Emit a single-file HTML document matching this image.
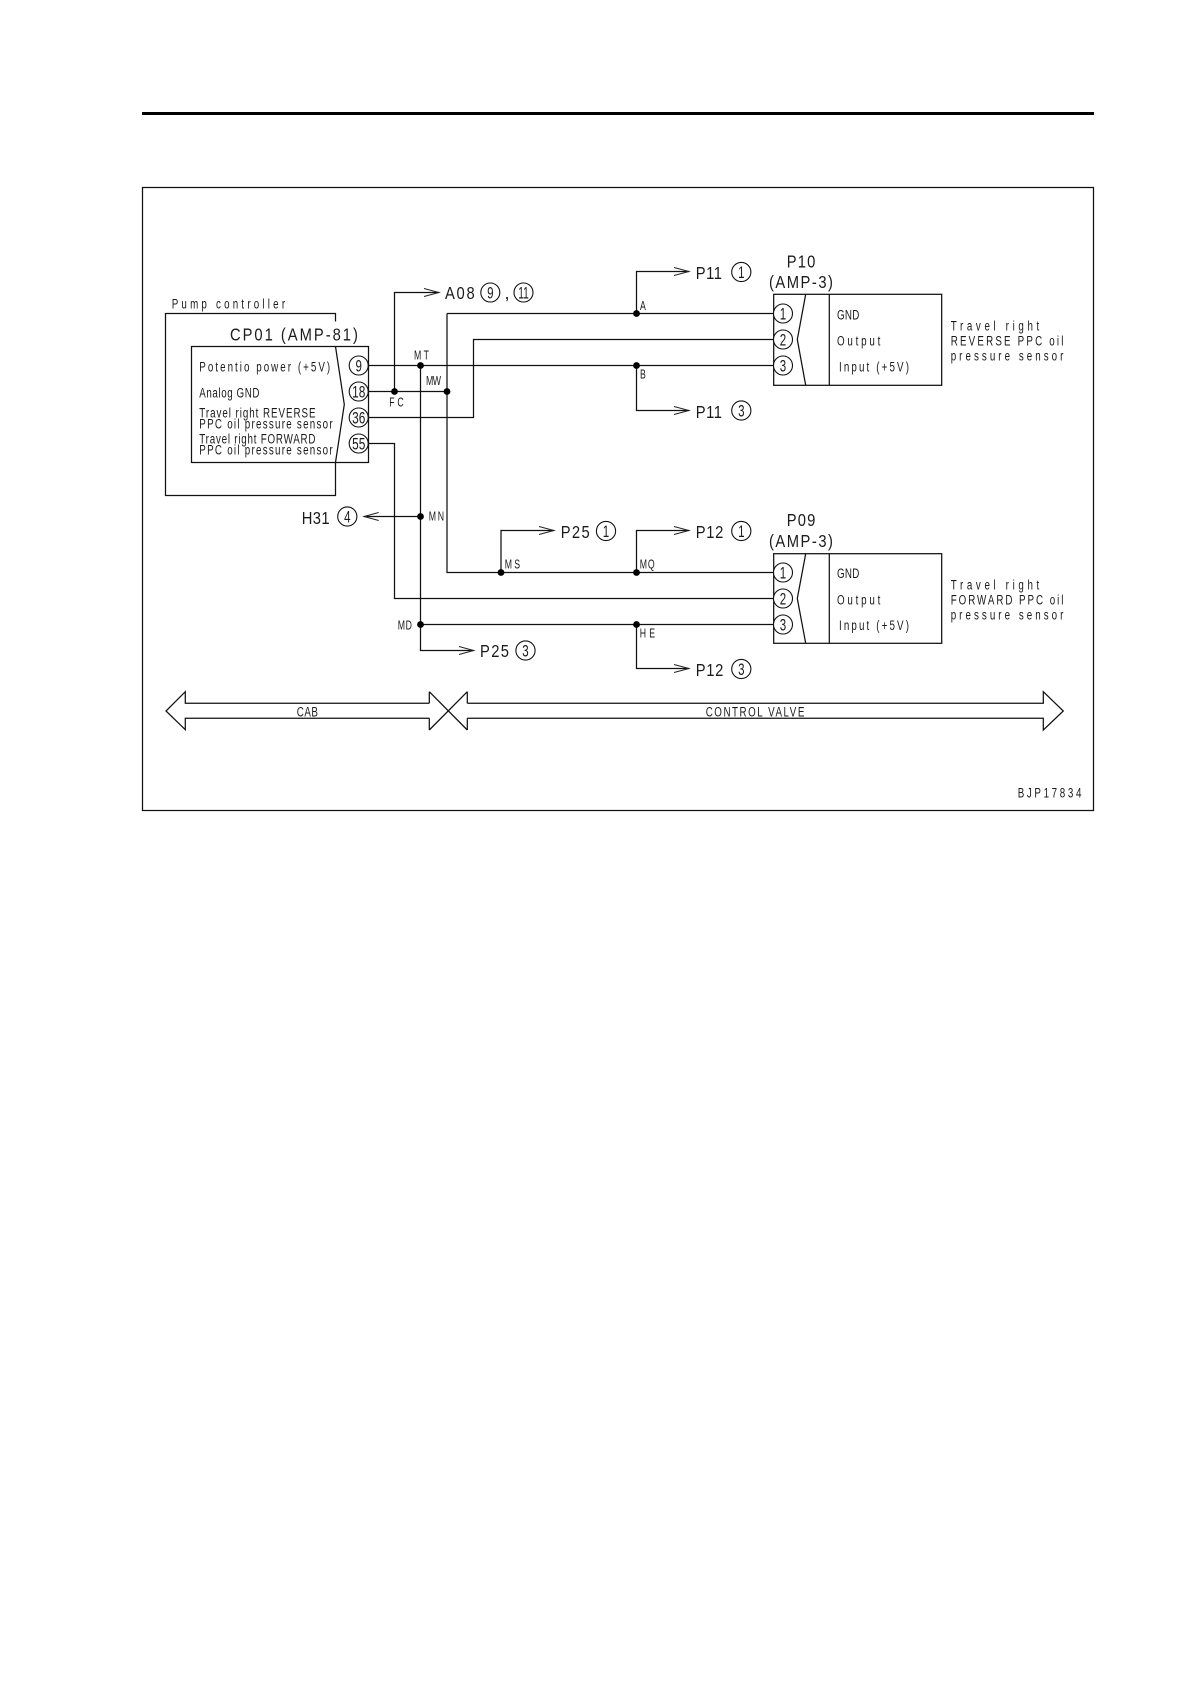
<!DOCTYPE html>
<html><head><meta charset="utf-8"><style>
html,body{margin:0;padding:0;background:#fff}
svg{display:block}
text{font-family:"Liberation Sans",sans-serif;fill:#1a1a1a}
.l{font-size:18px}
.s{font-size:14px}
.x{font-size:12.5px}
.c{font-size:16.5px;text-anchor:middle}
.w{fill:none;stroke:#111;stroke-width:1.25}
.h{fill:none;stroke:#222;stroke-width:1}
.p{fill:#fff;stroke:#111;stroke-width:1.1}
</style></head><body>
<svg width="1190" height="1684" viewBox="0 0 1190 1684" xmlns="http://www.w3.org/2000/svg">
<rect width="1190" height="1684" fill="#fff"/>
<rect x="142" y="112" width="952" height="3" fill="#000"/>
<rect class="w" x="142.5" y="187.5" width="951" height="623"/>

<!-- pump controller -->
<path class="w" d="M335.5 321.5V313.5H165.5V495.5H335.5V462.5"/>
<rect class="w" x="191.5" y="346.5" width="177" height="116"/>
<path class="w" d="M335.5 346.5L344.3 404.5L335.5 462.5"/>

<!-- wires -->
<path class="w" d="M368.5 365.5H773.7"/>
<path class="w" d="M368.5 391.5H447"/>
<path class="w" d="M368.5 417.5H473.5V339.5H773.7"/>
<path class="w" d="M368.5 443.5H394.5V598.5H773.7"/>
<path class="w" d="M394.5 391.5V292.5H439"/>
<path class="w" d="M420.5 365.5V650.5H473.7"/>
<path class="w" d="M447 313.5V572.5H773.7"/>
<path class="w" d="M447 313.5H773.7"/>
<path class="w" d="M420.5 624.5H773.7"/>
<path class="w" d="M420.5 516.5H364"/>
<path class="w" d="M636.5 313.5V271.5H689"/>
<path class="w" d="M636.5 365.5V410.5H689"/>
<path class="w" d="M501 572.5V530.5H554"/>
<path class="w" d="M636.5 572.5V530.5H689"/>
<path class="w" d="M636.5 624.5V668.5H689"/>

<!-- arrowheads -->
<path class="h" d="M424 288.5L439 292.5L424 296.5"/>
<path class="h" d="M459 646.5L473.7 650.5L459 654.5"/>
<path class="h" d="M378.7 512.5L364 516.5L378.7 520.5"/>
<path class="h" d="M674 267.5L689 271.5L674 275.5"/>
<path class="h" d="M674 406.5L689 410.5L674 414.5"/>
<path class="h" d="M539 526.5L554 530.5L539 534.5"/>
<path class="h" d="M674 526.5L689 530.5L674 534.5"/>
<path class="h" d="M674 664.5L689 668.5L674 672.5"/>

<!-- junctions -->
<g fill="#000">
<circle cx="420.5" cy="365.5" r="3.4"/><circle cx="394.5" cy="391.5" r="3.4"/><circle cx="447" cy="391.5" r="3.4"/>
<circle cx="636.5" cy="313.5" r="3.4"/><circle cx="636.5" cy="365.5" r="3.4"/>
<circle cx="420.5" cy="516.5" r="3.4"/><circle cx="420.5" cy="624.5" r="3.4"/>
<circle cx="501" cy="572.5" r="3.4"/><circle cx="636.5" cy="572.5" r="3.4"/><circle cx="636.5" cy="624.5" r="3.4"/>
</g>

<!-- pin circles CP01 -->
<circle class="p" cx="358.7" cy="365.5" r="9.5"/><circle class="p" cx="358.7" cy="391.5" r="9.5"/>
<circle class="p" cx="358.7" cy="417.5" r="9.5"/><circle class="p" cx="358.7" cy="443.5" r="9.5"/>
<text class="c" transform="translate(358.7 371.3) scale(.7 1)">9</text>
<text class="c" transform="translate(358.7 397.3) scale(.72 1)">18</text>
<text class="c" transform="translate(358.7 423.3) scale(.72 1)">36</text>
<text class="c" transform="translate(358.7 449.3) scale(.72 1)">55</text>

<!-- P10 -->
<rect class="w" x="773.7" y="294.3" width="168" height="91"/>
<path class="w" d="M829.3 294.3V385.3"/>
<path class="w" d="M805.7 294.3L797.3 339.5L805.7 385.3"/>
<circle class="p" cx="783" cy="313.5" r="9.5"/><circle class="p" cx="783" cy="339.5" r="9.5"/><circle class="p" cx="783" cy="365.5" r="9.5"/>
<text class="c" transform="translate(783 319.3) scale(.7 1)">1</text>
<text class="c" transform="translate(783 345.3) scale(.7 1)">2</text>
<text class="c" transform="translate(783 371.3) scale(.7 1)">3</text>
<text class="l" transform="translate(786.7 267.3) scale(.82 1)" textLength="34.9">P10</text>
<text class="l" transform="translate(769 288) scale(.82 1)" textLength="78">(AMP-3)</text>
<text class="s" transform="translate(837 319.3) scale(.7 1)" textLength="32">GND</text>
<text class="s" transform="translate(837 345.3) scale(.7 1)" textLength="62">Output</text>
<text class="s" transform="translate(839 371.3) scale(.7 1)" textLength="100">Input (+5V)</text>
<text class="s" transform="translate(950.7 330.7) scale(.7 1)" textLength="126.5">Travel right</text>
<text class="s" transform="translate(950.7 345.7) scale(.7 1)" textLength="161">REVERSE PPC oil</text>
<text class="s" transform="translate(950.7 360.7) scale(.7 1)" textLength="161">pressure sensor</text>

<!-- P09 -->
<rect class="w" x="773.7" y="553.7" width="168" height="89.6"/>
<path class="w" d="M829.3 553.7V643.3"/>
<path class="w" d="M805.7 553.7L797.3 598.5L805.7 643.3"/>
<circle class="p" cx="783" cy="572.5" r="9.5"/><circle class="p" cx="783" cy="598.5" r="9.5"/><circle class="p" cx="783" cy="624.5" r="9.5"/>
<text class="c" transform="translate(783 578.3) scale(.7 1)">1</text>
<text class="c" transform="translate(783 604.3) scale(.7 1)">2</text>
<text class="c" transform="translate(783 630.3) scale(.7 1)">3</text>
<text class="l" transform="translate(786.7 526) scale(.82 1)" textLength="34.9">P09</text>
<text class="l" transform="translate(769 547) scale(.82 1)" textLength="78">(AMP-3)</text>
<text class="s" transform="translate(837 578) scale(.7 1)" textLength="32">GND</text>
<text class="s" transform="translate(837 604.3) scale(.7 1)" textLength="62">Output</text>
<text class="s" transform="translate(839 630) scale(.7 1)" textLength="100">Input (+5V)</text>
<text class="s" transform="translate(950.7 589.3) scale(.7 1)" textLength="126.5">Travel right</text>
<text class="s" transform="translate(950.7 604.3) scale(.7 1)" textLength="161">FORWARD PPC oil</text>
<text class="s" transform="translate(950.7 619.3) scale(.7 1)" textLength="161">pressure sensor</text>

<!-- controller text -->
<text class="s" transform="translate(171.7 308.7) scale(.7 1)" textLength="162">Pump controller</text>
<text class="l" transform="translate(230 340.7) scale(.82 1)" textLength="156">CP01 (AMP-81)</text>
<text class="s" transform="translate(199.3 371.7) scale(.7 1)" textLength="187">Potentio power (+5V)</text>
<text class="s" transform="translate(199.3 397.3) scale(.7 1)" textLength="86">Analog GND</text>
<text class="s" transform="translate(199.3 417.3) scale(.7 1)" textLength="166">Travel right REVERSE</text>
<text class="s" transform="translate(199.3 428.7) scale(.7 1)" textLength="190.5">PPC oil pressure sensor</text>
<text class="s" transform="translate(199.3 443.3) scale(.7 1)" textLength="166">Travel right FORWARD</text>
<text class="s" transform="translate(199.3 454.7) scale(.7 1)" textLength="190.5">PPC oil pressure sensor</text>

<!-- destination labels -->
<text class="l" transform="translate(445 299) scale(.82 1)" textLength="36.2">A08</text>
<circle class="p" cx="490.3" cy="292.5" r="9.5"/><text class="c" transform="translate(490.3 298.3) scale(.7 1)">9</text>
<text class="l" x="504.5" y="299">,</text>
<circle class="p" cx="523.5" cy="292.5" r="9.5"/><text class="c" transform="translate(523.5 298.3) scale(.62 1)">11</text>

<text class="l" transform="translate(695.7 279) scale(.82 1)" textLength="32">P11</text>
<circle class="p" cx="741.3" cy="272" r="9.6"/><text class="c" transform="translate(741.3 277.8) scale(.7 1)">1</text>
<text class="l" transform="translate(695.7 418) scale(.82 1)" textLength="32">P11</text>
<circle class="p" cx="741.3" cy="410.5" r="9.6"/><text class="c" transform="translate(741.3 416.3) scale(.7 1)">3</text>
<text class="l" transform="translate(301.7 524) scale(.82 1)" textLength="34">H31</text>
<circle class="p" cx="347.3" cy="516.5" r="9.6"/><text class="c" transform="translate(347.3 522.3) scale(.7 1)">4</text>
<text class="l" transform="translate(560.7 538) scale(.82 1)" textLength="35.4">P25</text>
<circle class="p" cx="606" cy="531" r="9.6"/><text class="c" transform="translate(606 536.8) scale(.7 1)">1</text>
<text class="l" transform="translate(695.7 538) scale(.82 1)" textLength="33.7">P12</text>
<circle class="p" cx="741.3" cy="531" r="9.6"/><text class="c" transform="translate(741.3 536.8) scale(.7 1)">1</text>
<text class="l" transform="translate(480 657) scale(.82 1)" textLength="35.4">P25</text>
<circle class="p" cx="525.5" cy="650.5" r="9.6"/><text class="c" transform="translate(525.5 656.3) scale(.7 1)">3</text>
<text class="l" transform="translate(695.7 676) scale(.82 1)" textLength="33.7">P12</text>
<circle class="p" cx="741.3" cy="669" r="9.6"/><text class="c" transform="translate(741.3 674.8) scale(.7 1)">3</text>

<!-- junction labels -->
<text class="x" transform="translate(414 359.3) scale(.7 1)" textLength="21.4">MT</text>
<text class="x" transform="translate(426 385) scale(.7 1)" textLength="21.4">MW</text>
<text class="x" transform="translate(389.3 406.7) scale(.7 1)" textLength="20.6">FC</text>
<text class="x" transform="translate(428.7 520.7) scale(.7 1)" textLength="21.9">MN</text>
<text class="x" transform="translate(397.7 629.3) scale(.7 1)" textLength="20.4">MD</text>
<text class="x" transform="translate(504.7 568.7) scale(.7 1)" textLength="21.9">MS</text>
<text class="x" transform="translate(639.7 568.7) scale(.7 1)" textLength="21.4">MQ</text>
<text class="x" transform="translate(639.7 637.3) scale(.7 1)" textLength="21.9">HE</text>
<text class="x" transform="translate(640 310) scale(.7 1)">A</text>
<text class="x" transform="translate(640 378.3) scale(.7 1)">B</text>

<!-- range arrows -->
<path class="w" d="M429.3 703.3H185.3V691.7L166 711L185.3 729.7V718.3H429.3"/>
<path class="w" d="M467.3 703.3H1043.3V691.7L1063.3 711L1043.3 730V718.3H467.3"/>
<path class="w" d="M429.3 691.7V703.3M429.3 718.3V730M467.3 691.7V703.3M467.3 718.3V730M429.3 691.7L467.3 730M467.3 691.7L429.3 730"/>
<text class="s" transform="translate(296.7 716.7) scale(.7 1)" textLength="30.4">CAB</text>
<text class="s" transform="translate(705.7 716.7) scale(.7 1)" textLength="141">CONTROL VALVE</text>
<text class="s" transform="translate(1017.7 797.3) scale(.7 1)" textLength="91">BJP17834</text>
</svg>
</body></html>
